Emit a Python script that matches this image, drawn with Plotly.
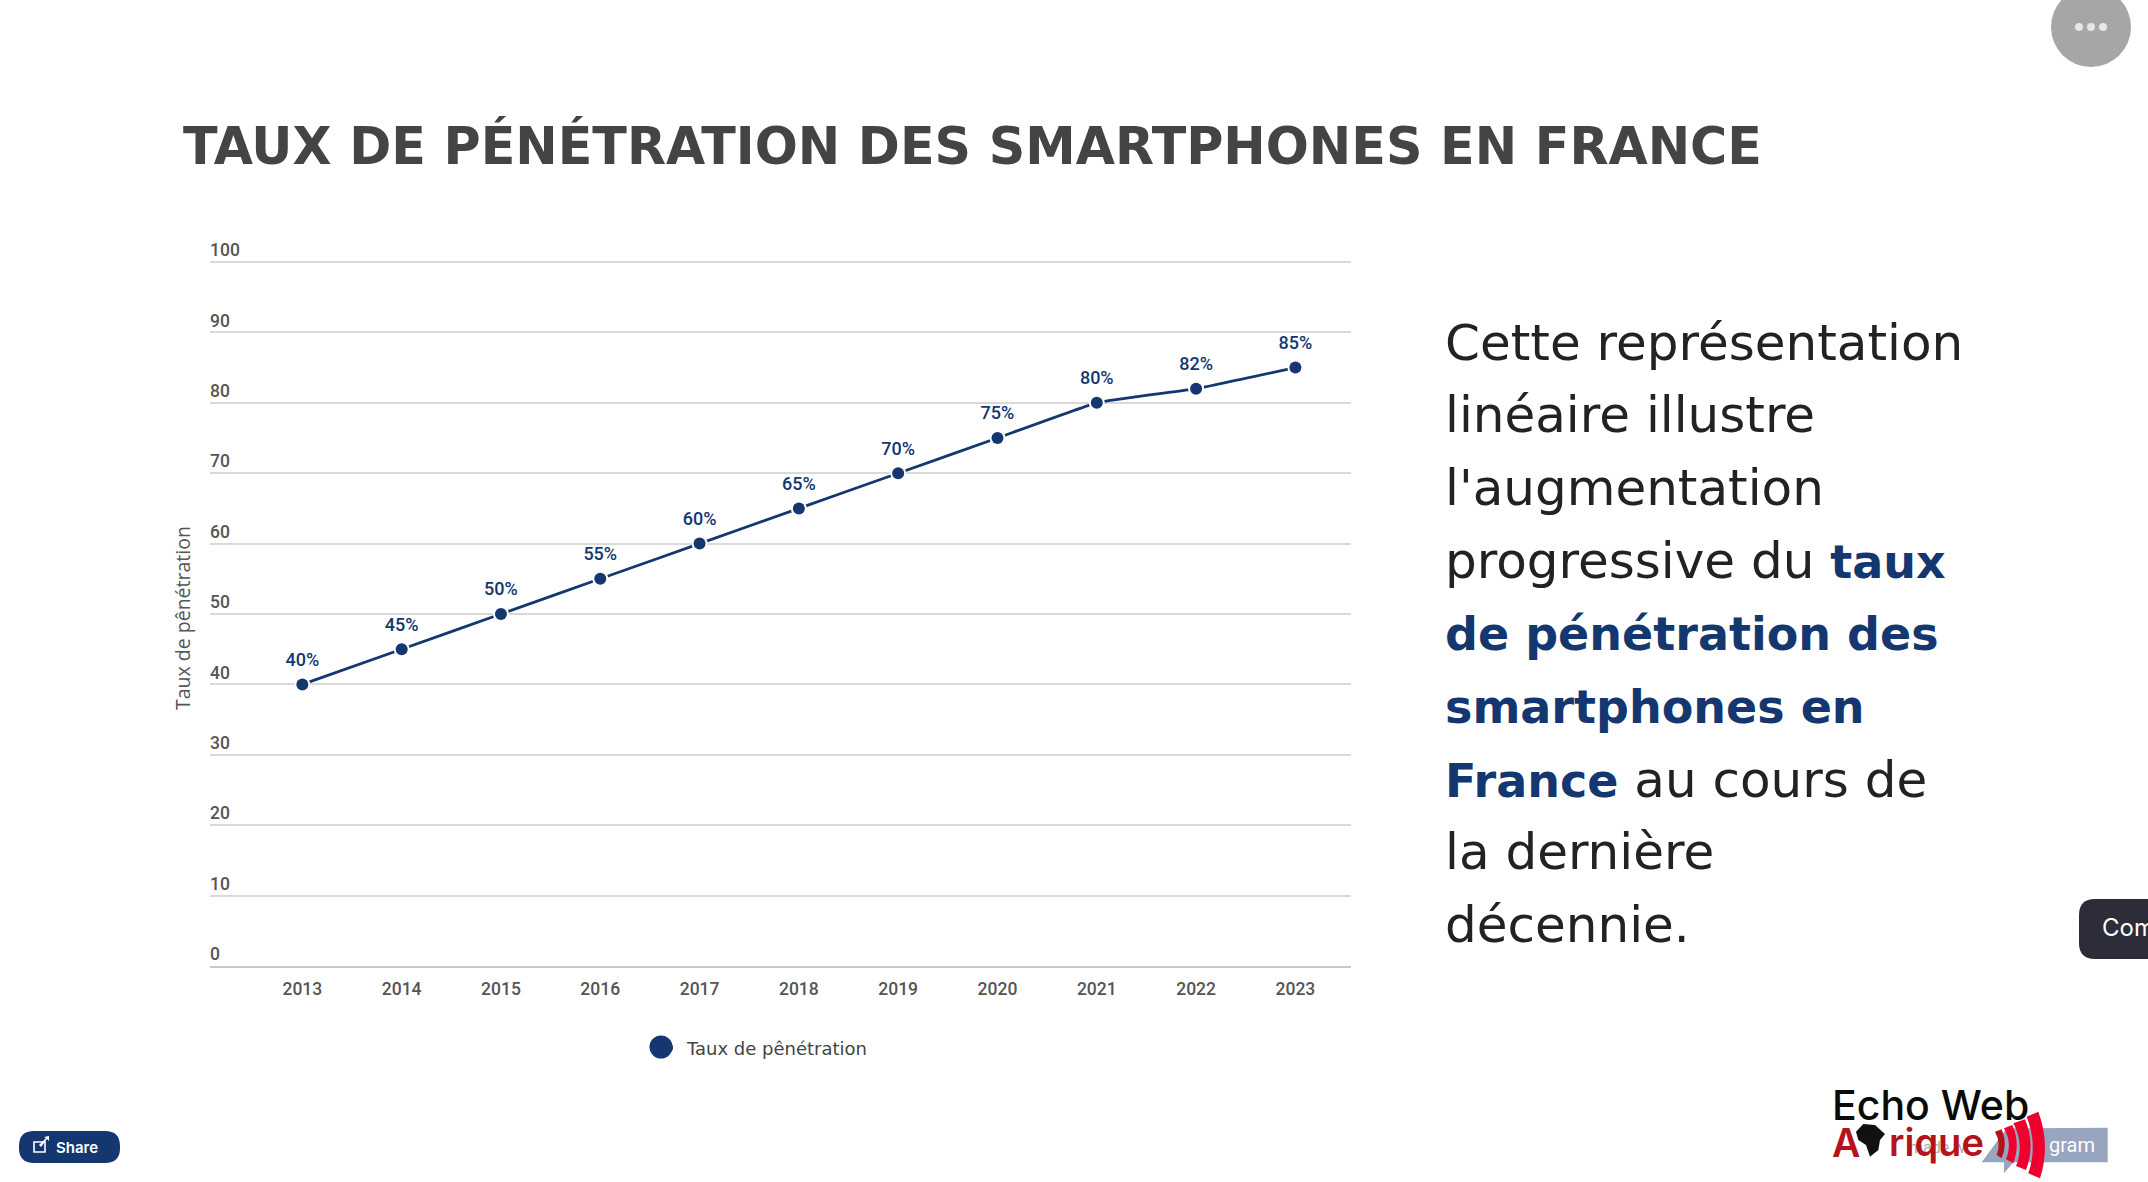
import plotly.graph_objects as go

W, H = 2148, 1182

years = ["2013", "2014", "2015", "2016", "2017", "2018", "2019", "2020", "2021", "2022", "2023"]
rates = [40, 45, 50, 55, 60, 65, 70, 75, 80, 82, 85]
rate_labels = ["40%", "45%", "50%", "55%", "60%", "65%", "70%", "75%", "80%", "82%", "85%"]
y_ticks = [0, 10, 20, 30, 40, 50, 60, 70, 80, 90, 100]
series_name = "Taux de pênétration"
axis_title = "Taux de pênétration"
chart_title = "TAUX DE PÉNÉTRATION DES SMARTPHONES EN FRANCE"
NAVY = "#14376f"
hl = "<b><span style='color:" + NAVY + ";font-size:46px'>%s</span></b>"
body_lines = [
    "Cette représentation",
    "linéaire illustre",
    "l'augmentation",
    "progressive du " + hl % "taux",
    hl % "de pénétration des",
    hl % "smartphones en",
    hl % "France" + " au cours de",
    "la dernière",
    "décennie.",
]
body_y = [343, 415, 488, 561, 634, 707, 780, 852, 925]

GREY = "#555555"
RED = "#f0002f"
DARKRED = "#b5121b"
SLATE = "#98a5be"
CHART_FONT = "Roboto"
BODY_FONT = "DejaVu Sans"
Y_MAX = 105
PLOT_BOTTOM, PX_PER_UNIT = 966, 7.04

px = lambda x: x / W
py = lambda y: 1 - y / H


def poly(points, color, layer="above"):
    d = "M" + " L".join(f"{px(x)},{py(y)}" for x, y in points) + " Z"
    return dict(type="path", xref="paper", yref="paper", path=d, fillcolor=color, line_width=0, layer=layer)


def lx(x):
    return px(1780 + x / 3)


def ly(y):
    return py(1060 + y / 3)


def logo_poly(points, color):
    return poly([(1780 + x / 3, 1060 + y / 3) for x, y in points], color)


def logo_arc(a, b, c_out, c, d, c_in, color):
    p = (f"M{lx(a[0])},{ly(a[1])} L{lx(b[0])},{ly(b[1])} Q{lx(c_out[0])},{ly(c_out[1])} {lx(c[0])},{ly(c[1])} "
         f"L{lx(d[0])},{ly(d[1])} Q{lx(c_in[0])},{ly(c_in[1])} {lx(a[0])},{ly(a[1])} Z")
    return dict(type="path", xref="paper", yref="paper", path=p, fillcolor=color, line_width=0, layer="above")


def circle(cx, cy, r, color, layer="above"):
    return dict(type="circle", xref="paper", yref="paper", x0=px(cx - r), x1=px(cx + r),
                y0=py(cy + r), y1=py(cy - r), fillcolor=color, line_width=0, layer=layer)


def rounded(x0, y0, x1, y1, r, color):
    a, b, c, d = px(x0), px(x1), py(y0), py(y1)
    rx, ry = r / W, r / H
    p = (f"M{a + rx},{c} L{b - rx},{c} Q{b},{c} {b},{c - ry} L{b},{d + ry} Q{b},{d} {b - rx},{d} "
         f"L{a + rx},{d} Q{a},{d} {a},{d + ry} L{a},{c - ry} Q{a},{c} {a + rx},{c} Z")
    return dict(type="path", xref="paper", yref="paper", path=p, fillcolor=color, line_width=0, layer="above")


def text(x, y, s, size, color, font=CHART_FONT, anchor="left", weight=400, angle=0):
    return dict(xref="paper", yref="paper", x=px(x), y=py(y), text=s, showarrow=False,
                xanchor=anchor, yanchor="middle", align="left", textangle=angle,
                font=dict(family=font, size=size, color=color, weight=weight))


fig = go.Figure()
fig.add_trace(go.Scatter(x=years, y=rates, mode="lines", line=dict(color=NAVY, width=2.8, shape="spline", smoothing=0.3),
                         showlegend=False, hoverinfo="skip"))
fig.add_trace(go.Scatter(x=years, y=rates, mode="markers", marker=dict(color="white", size=16),
                         showlegend=False, hoverinfo="skip"))
fig.add_trace(go.Scatter(x=years, y=rates, mode="markers", name=series_name,
                         marker=dict(color=NAVY, size=12)))
fig.add_trace(go.Scatter(x=years, y=rates, mode="markers+text", text=rate_labels, showlegend=False, hoverinfo="skip",
                         textposition="top center", textfont=dict(family=CHART_FONT, size=18, color=NAVY, weight=500),
                         marker=dict(color="rgba(0,0,0,0)", size=21)))

shapes = [
    # share button with its icon, options button, comment tab
    rounded(19, 1131, 120, 1163, 15, NAVY),
    dict(type="rect", xref="paper", yref="paper", x0=px(34), x1=px(45), y0=py(1152), y1=py(1142),
         line=dict(color="white", width=1.6), layer="above"),
    poly([(39, 1145), (46, 1138), (44, 1137), (49, 1136), (49, 1141), (47, 1139), (41, 1147)], "white"),
    circle(2091, 27, 40, "#a6a6a6"),
    circle(2079, 27, 4, "#e6e6e6"), circle(2091, 27, 4, "#e6e6e6"), circle(2103, 27, 4, "#e6e6e6"),
    rounded(2079, 899, 2190, 959, 16, "#2d2d3a"),
    # legend disc
    circle(661, 1047, 11.5, NAVY, layer="below"),
    # logo
    logo_poly([(605, 307), (680, 205), (983, 203), (983, 307), (700, 307), (672, 340), (672, 307)], SLATE),
    logo_arc((740, 170), (775, 155), (812, 255), (780, 355), (745, 340), (774, 255), RED),
    logo_arc((700, 190), (735, 178), (767, 255), (738, 330), (708, 318), (734, 255), RED),
    logo_arc((672, 205), (697, 195), (722, 250), (700, 310), (678, 298), (698, 250), RED),
    logo_arc((645, 215), (665, 208), (684, 252), (665, 295), (650, 285), (664, 250), DARKRED),
    logo_poly([(228, 215), (250, 192), (285, 195), (315, 222), (300, 240), (295, 270), (270, 290), (258, 255),
               (235, 240)], "#111111"),
]

annotations = [
    text(181, 146, chart_title, 50.7, "#444444", BODY_FONT, weight=700),
    text(77, 1147, "Share", 15, "white", "Inter", "center", 600),
    text(2100, 928, "Com", 24, "white", "Inter"),
    text(182, 618, axis_title, 19.5, GREY, "Open Sans", "center", 500, -90),
    text(1830, 1105, "Echo Web", 41, "#0a0a0a", "Inter", weight=500),
    text(1830, 1142, "A", 39, DARKRED, "Inter", weight=600),
    text(1907, 1147, "made w", 16, "#b0b0b0", "Roboto"),
    text(1887, 1142, "rique", 38, DARKRED, "Inter", weight=600),
    text(2047, 1145, "gram", 20, "white", "Roboto"),
]
for line, y in zip(body_lines, body_y):
    annotations.append(text(1443, y, line, 50, "#222222", BODY_FONT))

fig.update_layout(
    width=W, height=H, margin=dict(l=0, r=0, t=0, b=0),
    paper_bgcolor="white", plot_bgcolor="white",
    shapes=shapes, annotations=annotations,
    legend=dict(x=px(647), y=py(1048), xanchor="left", yanchor="middle", itemwidth=30, bgcolor="rgba(0,0,0,0)",
                font=dict(family=BODY_FONT, size=18, color="#444444")),
    xaxis=dict(domain=[px(210), px(1351)], type="category", categoryorder="array", categoryarray=years,
               range=[-0.93, 10.56], showgrid=False, zeroline=False, showline=True, linecolor="#c8c8c8", linewidth=1.5,
               ticks="", tickfont=dict(family=CHART_FONT, size=17.5, color=GREY, weight=500), ticklabelstandoff=6,
               fixedrange=True),
    yaxis=dict(domain=[py(PLOT_BOTTOM), py(PLOT_BOTTOM - PX_PER_UNIT * Y_MAX)], range=[0, Y_MAX], tickvals=y_ticks, ticks="",
               ticklabelposition="inside", ticklabelshift=-12, ticklabelstandoff=-3,
               tickfont=dict(family=CHART_FONT, size=17.5, color=GREY, weight=500),
               gridcolor="#d9d9d9", gridwidth=1.5, zeroline=False, showline=False, fixedrange=True),
)
fig.write_html("out.html", config=dict(displayModeBar=False), post_script="document.body.style.margin='0';")
